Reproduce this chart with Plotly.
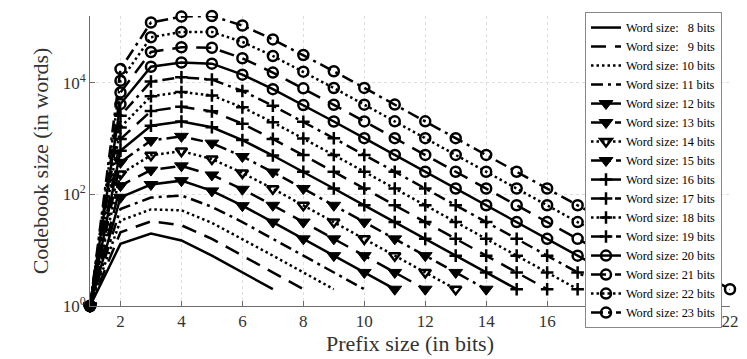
import plotly.graph_objects as go

# prefix sizes (x) and codebook sizes per word size (y)
prefix_bits = [1, 2, 3, 4, 5, 6, 7, 8, 9, 10, 11, 12, 13, 14, 15, 16, 17, 18, 19, 20, 21, 22]

size_w8 = [1, 13, 20, 15, 8, 4, 2]
size_w9 = [1, 21, 33, 28, 16, 8, 4, 2]
size_w10 = [1, 34, 54, 52, 31, 16, 8, 4, 2]
size_w11 = [1, 55, 88, 96, 60, 32, 16, 8, 4, 2]
size_w12 = [1, 89, 151, 177, 116, 63, 32, 16, 8, 4, 2]
size_w13 = [1, 144, 274, 326, 224, 124, 64, 32, 16, 8, 4, 2]
size_w14 = [1, 233, 504, 600, 432, 244, 127, 64, 32, 16, 8, 4, 2]
size_w15 = [1, 377, 927, 1104, 833, 480, 252, 128, 64, 32, 16, 8, 4, 2]
size_w16 = [1, 610, 1705, 2031, 1606, 944, 500, 255, 128, 64, 32, 16, 8, 4, 2]
size_w17 = [1, 987, 3136, 3736, 3096, 1856, 992, 508, 256, 128, 64, 32, 16, 8, 4, 2]
size_w18 = [1, 1597, 5768, 6872, 5968, 3649, 1968, 1012, 511, 256, 128, 64, 32, 16, 8, 4, 2]
size_w19 = [1, 2584, 10609, 12640, 11504, 7174, 3904, 2016, 1020, 512, 256, 128, 64, 32, 16, 8, 4, 2]
size_w20 = [1, 4181, 19513, 23249, 22175, 14104, 7744, 4016, 2036, 1023, 512, 256, 128, 64, 32,
            16, 8, 4, 2]
size_w21 = [1, 6765, 35890, 43698, 42744, 27728, 15361, 8000, 4064, 2044, 1024, 512, 256, 128, 64,
            32, 16, 8, 4, 2]
size_w22 = [1, 10946, 66012, 82293, 82392, 54512, 30470, 15936, 8112, 4084, 2047, 1024, 512, 256,
            128, 64, 32, 16, 8, 4, 2]
size_w23 = [1, 17711, 121415, 154974, 158816, 107168, 60440, 31744, 16192, 8160, 4092, 2048, 1024,
            512, 256, 128, 64, 32, 16, 8, 4, 2]

word_sizes = [8, 9, 10, 11, 12, 13, 14, 15, 16, 17, 18, 19, 20, 21, 22, 23]
series = [size_w8, size_w9, size_w10, size_w11, size_w12, size_w13, size_w14, size_w15,
          size_w16, size_w17, size_w18, size_w19, size_w20, size_w21, size_w22, size_w23]

# matlab-ish line styles: solid, dashed, dotted, dash-dot
dashes = ["solid", "15px,9px", "2.5px,3px", "12px,5px,3px,5px"]
# marker per group of four word sizes
markers = [None,
           ["triangle-down", "triangle-down", "triangle-down-open", "triangle-down"],
           ["cross-thin-open"] * 4,
           ["circle-open"] * 4]
marker_size = {"triangle-down": 12, "triangle-down-open": 10, "cross-thin-open": 9, "circle-open": 10}

FONT = "Liberation Serif"
AXIS_COL = "#6e6e6e"

# page has an 8px body margin, so the figure is 8px smaller than the window
W, H = 739, 351
ML, MR, MT, MB = 82, 17, 4, 53
PW, PH = W - ML - MR, H - MT - MB

fig = go.Figure()
for i, (w, vals) in enumerate(zip(word_sizes, series)):
    group, style = divmod(i, 4)
    label = "Word size: " + ("\u2007" if w < 10 else "") + str(w) + " bits"
    if markers[group] is None:
        mode = "lines"
        mk = dict()
    else:
        sym = markers[group][style]
        mode = "lines+markers"
        mk = dict(symbol=sym, size=marker_size[sym], color="black",
                  line=dict(color="black", width=2.5 if sym != "triangle-down" else 1))
    fig.add_trace(go.Scatter(
        x=prefix_bits[:len(vals)], y=vals, mode=mode, name=label,
        line=dict(color="black", width=2.5, dash=dashes[style]),
        marker=mk, cliponaxis=False,
    ))

fig.update_layout(
    width=W, height=H,
    margin=dict(l=ML, r=MR, t=MT, b=MB),
    paper_bgcolor="white", plot_bgcolor="white",
    font=dict(family=FONT, size=17, color="#333333"),
    # legend rows can't be packed tighter than 19px, so start it at the very top
    legend=dict(x=1.0 - 8 / PW, xanchor="right", y=1.0 + MT / PH, yanchor="top",
                bgcolor="white", bordercolor="#888888", borderwidth=1,
                font=dict(family=FONT, size=12.3, color="black"),
                tracegroupgap=0, itemwidth=30, maxheight=345),
    xaxis=dict(range=[1, 22], tickvals=[2, 4, 6, 8, 10, 12, 14, 16, 18, 20, 22],
               title=dict(text="Prefix size (in bits)", font=dict(size=22), standoff=2),
               showline=True, linecolor=AXIS_COL, linewidth=1,
               ticks="inside", ticklen=5, tickcolor=AXIS_COL,
               showgrid=True, gridcolor="#dedede", griddash="dot", gridwidth=1,
               zeroline=False, mirror=False),
    yaxis=dict(type="log", range=[0, 5.2009],
               tickvals=[1, 100, 10000],
               ticktext=["10<sup>0</sup>", "10<sup>2</sup>", "10<sup>4</sup>"],
               title=dict(text="Codebook size (in words)", font=dict(size=22), standoff=7),
               showline=True, linecolor=AXIS_COL, linewidth=1,
               ticks="inside", ticklen=5, tickcolor=AXIS_COL,
               showgrid=True, gridcolor="#dedede", griddash="dot", gridwidth=1,
               zeroline=False, mirror=False),
)

fig.write_html("out.html")
